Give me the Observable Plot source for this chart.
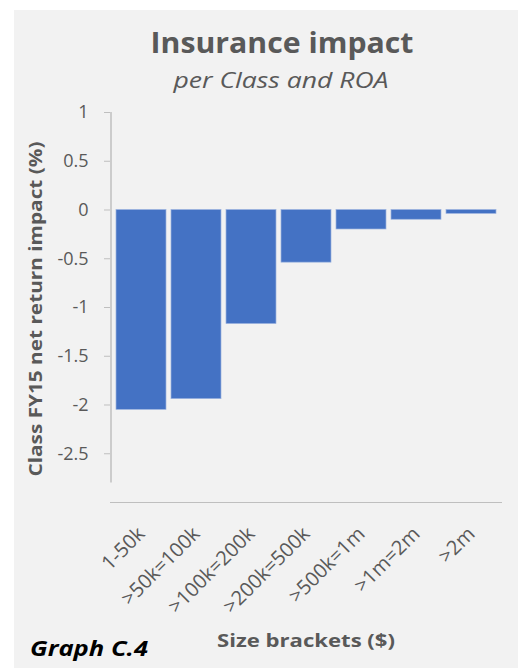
<!DOCTYPE html>
<html><head><meta charset="utf-8">
<script src="https://cdn.jsdelivr.net/npm/d3@7"></script>
<script src="https://cdn.jsdelivr.net/npm/@observablehq/plot@0.6"></script>
<style>
body{margin:0;background:#fff;}
#wrap{position:relative;width:518px;height:668px;overflow:hidden;font-family:"Open Sans",Lato,sans-serif;}
#panel{position:absolute;left:14px;top:10px;width:504px;height:658px;background:#f2f2f2;}
#chart{position:absolute;left:0;top:0;}
.t{position:absolute;white-space:nowrap;color:#595959;line-height:1;}
#title{left:282px;top:28px;font-size:28px;font-weight:700;}
#subtitle{left:281px;top:70px;font-size:21px;font-style:italic;}
#ylab{left:35px;top:309px;font-size:18px;font-weight:700;}
#xlab{left:306px;top:631px;font-size:18px;font-weight:700;}
#cap{left:89px;top:638px;font-size:21px;font-weight:700;font-style:italic;color:#000;}
</style></head>
<body>
<div id="wrap">
  <div id="panel"></div>
  <div id="chart"></div>
  <div class="t" id="title">Insurance impact</div>
  <div class="t" id="subtitle">per Class and ROA</div>
  <div class="t" id="ylab">Class FY15 net return impact (%)</div>
  <div class="t" id="xlab">Size brackets ($)</div>
  <div class="t" id="cap">Graph C.4</div>
</div>
<script>
const brackets = ["1-50k", ">50k=100k", ">100k=200k", ">200k=500k", ">500k=1m", ">1m=2m", ">2m"];
const impact = [-2.05, -1.94, -1.17, -0.54, -0.20, -0.10, -0.04];
const yTicks = [1, 0.5, 0, -0.5, -1, -1.5, -2, -2.5];
const yDomain = [-3, 1];

const data = brackets.map((b, i) => ({bracket: b, value: impact[i]}));

const chart = Plot.plot({
  width: 518,
  height: 668,
  marginTop: 112,
  marginBottom: 166,
  marginLeft: 110,
  marginRight: 16,
  style: {background: "transparent", fontFamily: "'Open Sans', Lato, sans-serif", fontSize: "18px", color: "#595959", overflow: "visible"},
  x: {domain: brackets, padding: 0.1, label: null},
  y: {domain: yDomain, label: null},
  marks: [
    Plot.axisY({ticks: yTicks, tickSize: 6, tickPadding: 16, stroke: "#bfbfbf", fill: "#595959", tickFormat: d => d3.format("")(d).replace("−", "-"), label: null}),
    Plot.axisX({tickSize: 0, tickRotate: -45, tickPadding: 28, fontSize: 20, fill: "#595959", label: null}),
    Plot.ruleY([-3], {stroke: "#bfbfbf", strokeWidth: 1.2}),
    Plot.barY(data, {x: "bracket", y: "value", fill: "#4472c4", stroke: "#9db4e0", strokeWidth: 0.7})
  ]
});
document.getElementById("chart").appendChild(chart);

// y-axis domain line drawn from the chart's own scales
const xs = chart.scale("x"), ys = chart.scale("y");
const yScale = d3.scaleLinear().domain(ys.domain).range(ys.range);
d3.select(chart).append("line")
  .attr("x1", xs.range[0] + 1).attr("x2", xs.range[0] + 1)
  .attr("y1", yScale(1)).attr("y2", yScale(-2.8))
  .attr("stroke", "#bfbfbf").attr("stroke-width", 1.5);

// stretch text labels horizontally to the reference widths (layout only)
function fit(id, w, rot, center) {
  const el = document.getElementById(id);
  const nat = el.getBoundingClientRect().width;
  const s = w / nat;
  el.style.transformOrigin = "0 0";
  if (rot) {
    el.style.transformOrigin = "center center";
    el.style.transform = `translate(-50%,-50%) rotate(-90deg) scaleX(${s})`;
  } else if (center) {
    el.style.transform = `translateX(-50%) scaleX(${s})`;
    el.style.transformOrigin = "center top";
  } else {
    el.style.transform = `scaleX(${s})`;
  }
}
fit("title", 263, false, true);
fit("subtitle", 215, false, true);
fit("ylab", 335, true);
fit("xlab", 178, false, true);
const cap = document.getElementById("cap");
cap.style.left = "30px";
fit("cap", 118, false, false);
</script>
</body></html>
